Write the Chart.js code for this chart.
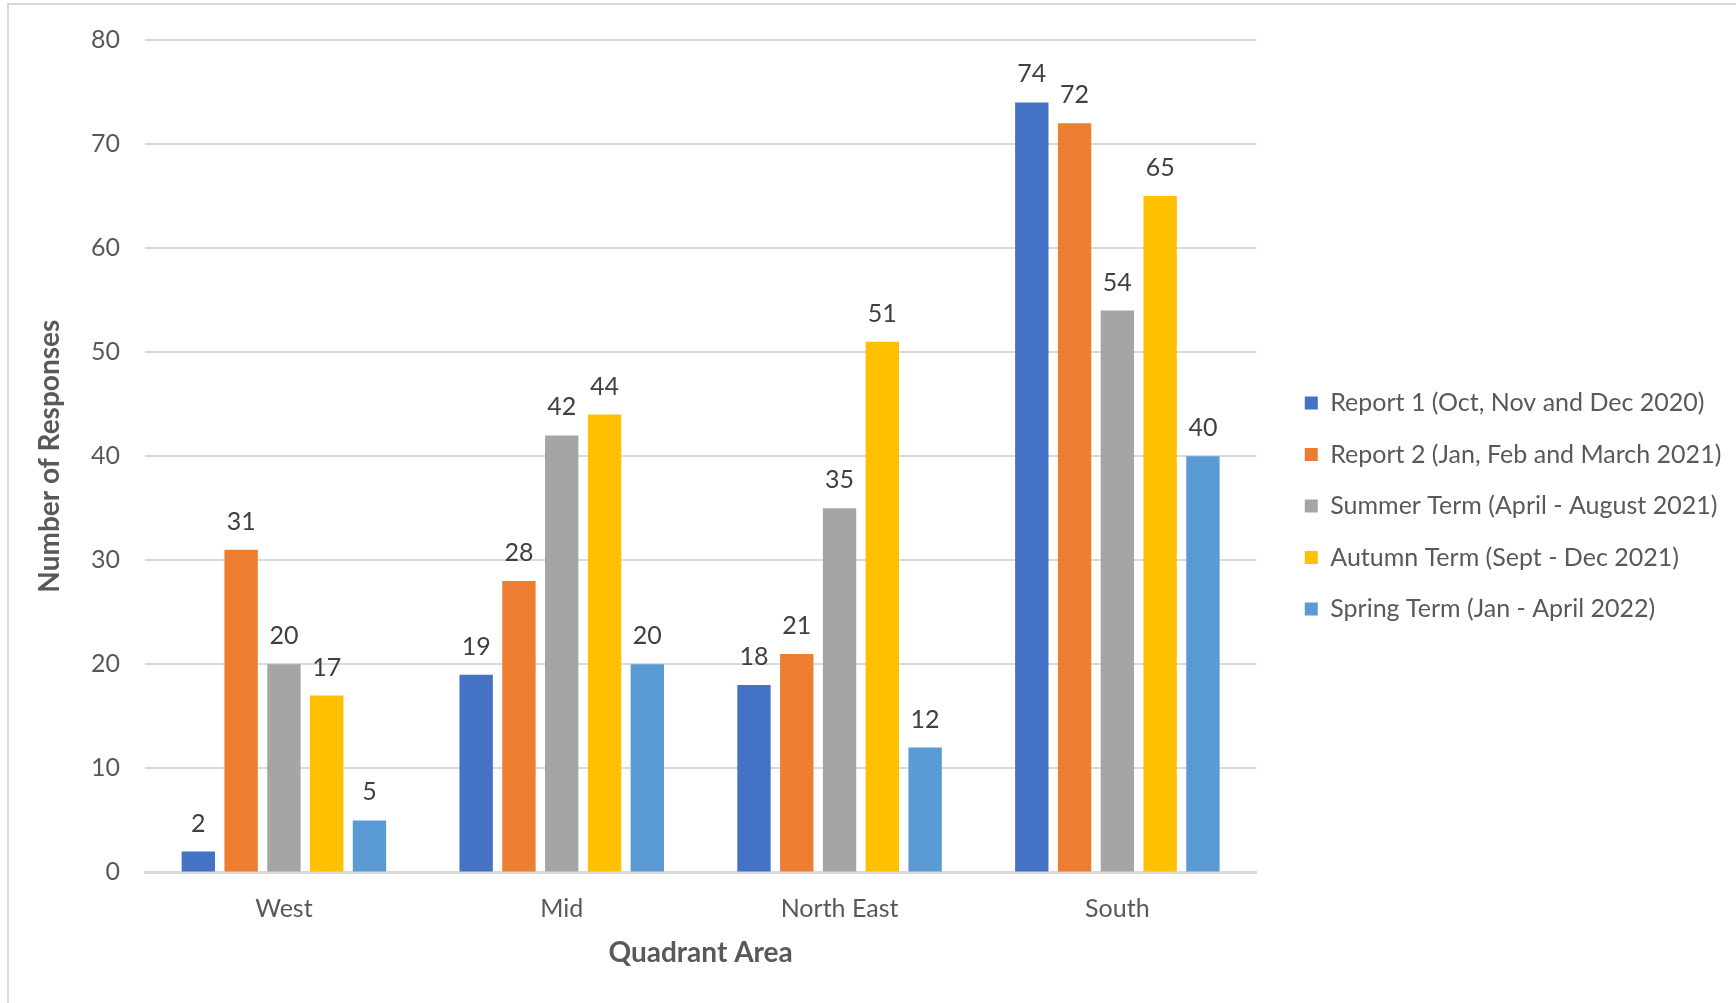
<!DOCTYPE html>
<html lang="en">
<head>
    <meta charset="UTF-8">
    <title>Responses by Quadrant Area</title>
    <style>
        body {
            margin: 0;
            padding: 0;
            background-color: #fff;
        }
        #frame {
            position: absolute;
            left: 7px;
            top: 3px;
            width: 1729px;
            height: 1000px;
            border-top: 2px solid #d9d9d9;
            border-left: 2px solid #d9d9d9;
            box-sizing: border-box;
        }
        #chart-box {
            position: absolute;
            left: 0;
            top: 0;
            width: 1736px;
            height: 1003px;
        }
    </style>
    <script src="https://cdn.jsdelivr.net/npm/chart.js"></script>
</head>
<body>
    <div id="frame"></div>
    <div id="chart-box">
        <canvas id="responses-chart"></canvas>
    </div>
    <script>
        const categories = ['West', 'Mid', 'North East', 'South'];
        const report1 = [2, 19, 18, 74];
        const report2 = [31, 28, 21, 72];
        const summerTerm = [20, 42, 35, 54];
        const autumnTerm = [17, 44, 51, 65];
        const springTerm = [5, 20, 12, 40];
        const yTicks = [0, 10, 20, 30, 40, 50, 60, 70, 80];

        const seriesNames = [
            'Report 1 (Oct, Nov and Dec 2020)',
            'Report 2 (Jan, Feb and March 2021)',
            'Summer Term (April - August 2021)',
            'Autumn Term (Sept - Dec 2021)',
            'Spring Term (Jan - April 2022)'
        ];
        const seriesColors = ['#4472C4', '#ED7D31', '#A5A5A5', '#FFC000', '#5B9BD5'];
        const seriesData = [report1, report2, summerTerm, autumnTerm, springTerm];

        const fontFamily = 'Lato, "Open Sans", sans-serif';

        // draws the number above each bar
        const valueLabels = {
            id: 'valueLabels',
            afterDatasetsDraw(chart) {
                const ctx = chart.ctx;
                ctx.save();
                ctx.font = '25px ' + fontFamily;
                ctx.fillStyle = '#404040';
                ctx.textAlign = 'center';
                ctx.textBaseline = 'middle';
                chart.data.datasets.forEach((ds, i) => {
                    chart.getDatasetMeta(i).data.forEach((bar, j) => {
                        ctx.fillText(ds.data[j], bar.x, bar.y - 28);
                    });
                });
                ctx.restore();
            }
        };

        const buildChart = () => {
            const ctx = document.getElementById('responses-chart').getContext('2d');
            const datasets = seriesData.map((values, i) => ({
                label: seriesNames[i],
                data: values,
                backgroundColor: seriesColors[i],
                borderWidth: 0,
                categoryPercentage: 0.77,
                barPercentage: 0.78
            }));
            new Chart(ctx, {
                type: 'bar',
                data: { labels: categories, datasets },
                plugins: [valueLabels],
                options: {
                    responsive: true,
                    maintainAspectRatio: false,
                    animation: false,
                    layout: { padding: { top: 28, left: 8, right: 4.7, bottom: 33 } },
                    plugins: {
                        tooltip: { enabled: false },
                        legend: {
                            position: 'right',
                            maxWidth: 600,
                            // empty title, only pushes the items down a little
                            title: {
                                display: true,
                                text: '',
                                padding: { top: 14, bottom: 0 },
                                font: { size: 0.01 }
                            },
                            labels: {
                                boxWidth: 13,
                                boxHeight: 13,
                                padding: 26.5,
                                color: '#595959',
                                font: { family: fontFamily, size: 25 }
                            }
                        }
                    },
                    scales: {
                        x: {
                            grid: { display: false, drawTicks: false },
                            border: { color: '#d9d9d9', width: 3 },
                            afterFit: (s) => { s.height = 97.6; },
                            ticks: {
                                color: '#595959',
                                padding: 21.6,
                                font: { family: fontFamily, size: 25 }
                            },
                            title: {
                                display: true,
                                text: 'Quadrant Area',
                                color: '#595959',
                                padding: 0,
                                font: { family: fontFamily, size: 28, weight: 'bold' }
                            }
                        },
                        y: {
                            min: 0,
                            max: 80,
                            afterBuildTicks: (axis) => {
                                axis.ticks = yTicks.map(v => ({ value: v }));
                            },
                            afterFit: (s) => { s.width = 137; },
                            grid: { color: '#d9d9d9', lineWidth: 2, drawTicks: false },
                            border: { display: false },
                            ticks: {
                                color: '#595959',
                                padding: 25,
                                font: { family: fontFamily, size: 25 }
                            },
                            title: {
                                display: true,
                                text: 'Number of Responses',
                                color: '#595959',
                                padding: { top: 25, bottom: 0 },
                                font: { family: fontFamily, size: 28, weight: 'bold' }
                            }
                        },
                        // empty axis that only keeps the gap before the legend
                        gap: {
                            type: 'linear',
                            position: 'right',
                            grid: { display: false },
                            border: { display: false },
                            ticks: { display: false },
                            afterFit: (s) => { s.width = 22; }
                        }
                    }
                }
            });
        };

        document.addEventListener('DOMContentLoaded', buildChart);
    </script>
</body>
</html>
